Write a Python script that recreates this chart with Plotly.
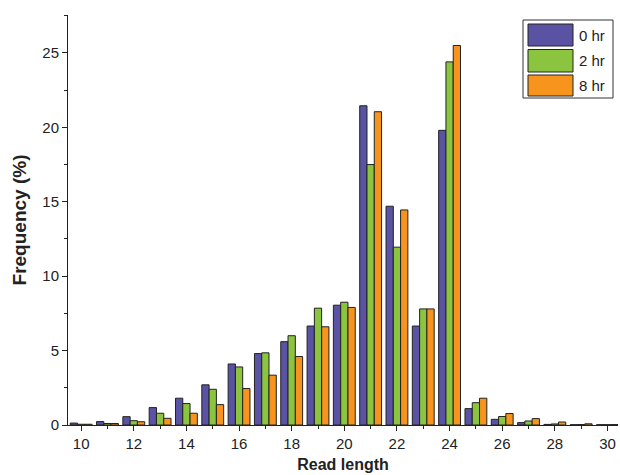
import plotly.graph_objects as go

read_length = [10, 11, 12, 13, 14, 15, 16, 17, 18, 19, 20, 21, 22, 23, 24, 25, 26, 27, 28, 29, 30]
hr0 = [0.13, 0.23, 0.56, 1.17, 1.8, 2.7, 4.1, 4.8, 5.6, 6.65, 8.05, 21.45, 14.7, 6.65, 19.8, 1.1, 0.38, 0.16, 0.04, 0.02, 0.02]
hr2 = [0.05, 0.1, 0.29, 0.79, 1.44, 2.4, 3.9, 4.85, 6.0, 7.85, 8.25, 17.5, 11.95, 7.8, 24.4, 1.5, 0.57, 0.27, 0.07, 0.03, 0.02]
hr8 = [0.05, 0.1, 0.22, 0.45, 0.79, 1.37, 2.45, 3.35, 4.6, 6.6, 7.9, 21.05, 14.45, 7.8, 25.5, 1.8, 0.77, 0.43, 0.2, 0.08, 0.03]
series_names = ["0 hr", "2 hr", "8 hr"]
colors = ["#5A52A3", "#8BC43F", "#F7941D"]

fig = go.Figure()
for name, vals, c in zip(series_names, [hr0, hr2, hr8], colors):
    fig.add_trace(go.Bar(x=read_length, y=vals, name=name, marker=dict(color=c, line=dict(color="#222222", width=1)),
                         showlegend=False))

# custom legend (boxed, large swatches)
px0, pw, py0, ph = 68, 550, 425, 410
def px(x): return (x - px0) / pw
def py(y): return (py0 - y) / ph

shapes = [dict(type="rect", xref="paper", yref="paper", x0=px(523), x1=px(613), y0=py(98), y1=py(20),
               line=dict(color="#333333", width=1), fillcolor="white", layer="above")]
annotations = []
tops = [24, 49.5, 75]
bots = [46, 72, 96]
for name, c, t, b in zip(series_names, colors, tops, bots):
    shapes.append(dict(type="rect", xref="paper", yref="paper", x0=px(528), x1=px(573), y0=py(b), y1=py(t),
                       line=dict(color="#222222", width=1), fillcolor=c, layer="above"))
    annotations.append(dict(text=name, xref="paper", yref="paper", x=px(577), y=py((t + b) / 2),
                            xanchor="left", yanchor="middle", showarrow=False,
                            font=dict(family="Liberation Sans, Arial, sans-serif", size=15, color="#222222")))

fig.update_layout(
    barmode="group", bargap=0.17, bargroupgap=0,
    width=620, height=475,
    margin=dict(l=68, r=2, t=15, b=50),
    plot_bgcolor="white", paper_bgcolor="white",
    font=dict(family="Liberation Sans, Arial, sans-serif", size=15, color="#222222"),
    shapes=shapes, annotations=annotations,
    xaxis=dict(range=[9.5, 30.4], tick0=10, dtick=2, ticks="outside", ticklen=5, tickwidth=1,
               tickcolor="#222222", showline=True, linecolor="#222222", linewidth=1, showgrid=False,
               zeroline=False, minor=dict(dtick=1, tick0=10, ticks="outside", ticklen=3, tickcolor="#222222"),
               title=dict(text="<b>Read length</b>", font=dict(size=16), standoff=7)),
    yaxis=dict(range=[0, 27.55], tick0=0, dtick=5, ticks="outside", ticklen=5, tickwidth=1,
               tickcolor="#222222", showline=True, linecolor="#222222", linewidth=1, showgrid=False,
               zeroline=False, minor=dict(dtick=2.5, ticks="outside", ticklen=3, tickcolor="#222222"),
               title=dict(text="<b>Frequency (%)</b>", font=dict(size=19), standoff=10)),
)

fig.write_html("out.html", config={"displayModeBar": False},
               post_script="document.body.style.margin='0';document.body.style.overflow='hidden';")
